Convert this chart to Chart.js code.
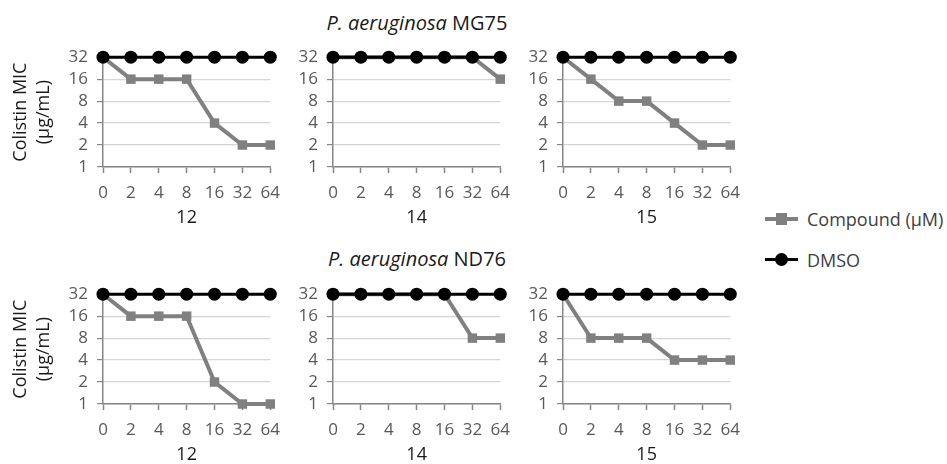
<!DOCTYPE html>
<html>
<head>
<meta charset="utf-8">
<script src="https://cdn.jsdelivr.net/npm/chart.js@4.4.1/dist/chart.umd.min.js"></script>
<style>
  body { margin: 0; background: #fff; font-family: "Open Sans", sans-serif; }
  #wrap { position: relative; width: 947px; height: 464px; overflow: hidden; }
  #wrap canvas { position: absolute; }
  .title { position: absolute; width: 300px; text-align: center; font-size: 20px; color: #1a1a1a; line-height: 22px; }
  .leg { position: absolute; left: 765px; height: 24px; }
  .leg .line { position: absolute; left: 0; width: 33px; }
  .leg .mark { position: absolute; }
  .leg span { position: absolute; left: 42px; top: 0; font-size: 18px; line-height: 24px; color: #404040; white-space: nowrap; }
</style>
</head>
<body>
<div id="wrap">
  <div class="title" style="left:267px; top:12px;"><i>P. aeruginosa</i> MG75</div>
  <div class="title" style="left:267px; top:248px;"><i>P. aeruginosa</i> ND76</div>
  <div class="leg" style="top:207px;">
    <div class="line" style="top:10px; height:4px; background:#808080;"></div>
    <div class="mark" style="left:11px; top:6px; width:11px; height:12px; background:#808080;"></div>
    <span>Compound (µM)</span>
  </div>
  <div class="leg" style="top:248px;">
    <div class="line" style="top:10px; height:3px; background:#000;"></div>
    <div class="mark" style="left:10px; top:5px; width:13px; height:13px; border-radius:50%; background:#000;"></div>
    <span>DMSO</span>
  </div>
</div>
<script>
// concentrations of compound (µM)
const doses = ['0', '2', '4', '8', '16', '32', '64'];
const yTicks = [1, 2, 4, 8, 16, 32];
const compounds = ['12', '14', '15'];

// colistin MIC (µg/mL)
const dmso = [32, 32, 32, 32, 32, 32, 32];
const mg75_12 = [32, 16, 16, 16, 4, 2, 2];
const mg75_14 = [32, 32, 32, 32, 32, 32, 16];
const mg75_15 = [32, 16, 8, 8, 4, 2, 2];
const nd76_12 = [32, 16, 16, 16, 2, 1, 1];
const nd76_14 = [32, 32, 32, 32, 32, 8, 8];
const nd76_15 = [32, 8, 8, 8, 4, 4, 4];

const rows = [
    [mg75_12, mg75_14, mg75_15],
    [nd76_12, nd76_14, nd76_15]
];

// plot area positions
const colLeft = [103, 333, 563];
const rowTop = [53, 290];
const plotW = 172, plotH = 114;
const padTop = 15, padRight = 15, xAxisH = 66;

const axisGray = '#868686';
const lineGray = '#808080';

function makePanel(row, col) {
    const first = col === 0;
    const yW = first ? 103 : 50;
    const canvas = document.createElement('canvas');
    const w = yW + plotW + padRight;
    const h = padTop + plotH + xAxisH;
    canvas.width = w;
    canvas.height = h;
    canvas.style.left = (colLeft[col] - yW) + 'px';
    canvas.style.top = (rowTop[row] - padTop) + 'px';
    canvas.style.width = w + 'px';
    canvas.style.height = h + 'px';
    document.getElementById('wrap').appendChild(canvas);

    new Chart(canvas.getContext('2d'), {
        type: 'line',
        data: {
            labels: doses,
            datasets: [
                {
                    label: 'Compound (µM)',
                    data: rows[row][col],
                    borderColor: lineGray,
                    backgroundColor: lineGray,
                    borderWidth: 4,
                    pointStyle: 'rect',
                    pointRadius: 6.7,
                    pointBorderWidth: 0,
                    pointBackgroundColor: lineGray,
                    tension: 0,
                    clip: false,
                    order: 1
                },
                {
                    label: 'DMSO',
                    data: dmso,
                    borderColor: '#000',
                    backgroundColor: '#000',
                    borderWidth: 3,
                    pointStyle: 'circle',
                    pointRadius: 6.5,
                    pointBorderWidth: 0,
                    pointBackgroundColor: '#000',
                    tension: 0,
                    clip: false,
                    order: 0
                }
            ]
        },
        options: {
            responsive: false,
            animation: false,
            layout: {
                padding: { left: 0, right: padRight, top: padTop, bottom: 0 }
            },
            plugins: {
                legend: { display: false },
                tooltip: { enabled: false }
            },
            scales: {
                x: {
                    type: 'category',
                    offset: false,
                    afterFit: function(scale) { scale.height = xAxisH; },
                    grid: {
                        drawOnChartArea: false,
                        tickLength: 6,
                        tickColor: axisGray,
                        tickWidth: 1.5
                    },
                    border: { color: axisGray, width: 1.5 },
                    ticks: {
                        autoSkip: false,
                        maxRotation: 0,
                        padding: 10,
                        color: '#595959',
                        font: { family: 'Open Sans', size: 17 }
                    },
                    title: {
                        display: true,
                        text: compounds[col],
                        color: '#1a1a1a',
                        font: { family: 'Open Sans', size: 18 }
                    }
                },
                y: {
                    type: 'logarithmic',
                    min: 1,
                    max: 32,
                    afterFit: function(scale) { scale.width = yW; },
                    afterBuildTicks: function(scale) {
                        scale.ticks = yTicks.map(v => ({ value: v }));
                    },
                    grid: {
                        color: '#d4d4d4',
                        lineWidth: 1.2,
                        tickLength: 6,
                        tickColor: axisGray
                    },
                    border: { color: axisGray, width: 1.5 },
                    ticks: {
                        autoSkip: false,
                        padding: 9,
                        color: '#595959',
                        font: { family: 'Open Sans', size: 17 },
                        callback: function(value) {
                            return value.toString();
                        }
                    },
                    title: {
                        display: first,
                        text: ['Colistin MIC', '(µg/mL)'],
                        color: '#1a1a1a',
                        padding: { top: 9, bottom: 4 },
                        font: { family: 'Open Sans', size: 18, lineHeight: 1.3 }
                    }
                }
            }
        }
    });
}

for (let r = 0; r < 2; r++) {
    for (let c = 0; c < 3; c++) {
        makePanel(r, c);
    }
}
</script>
</body>
</html>
